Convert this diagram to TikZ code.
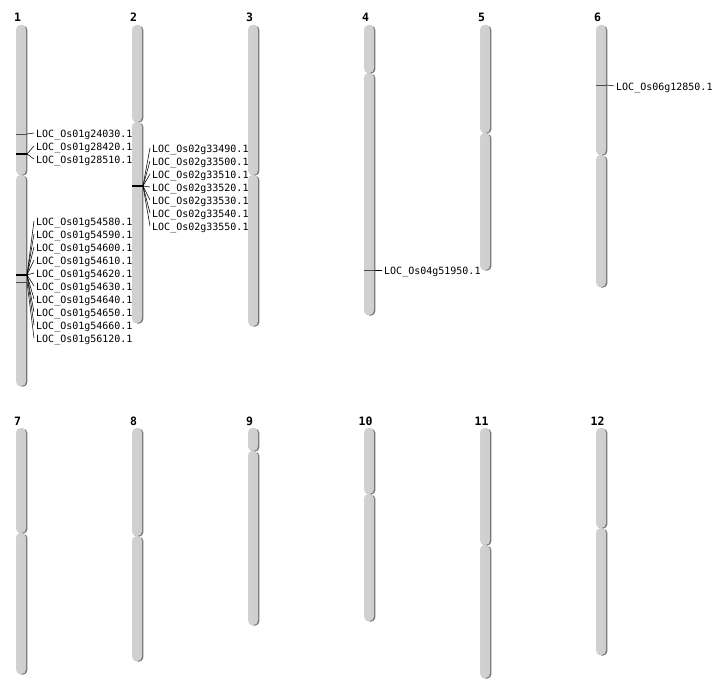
\documentclass[tikz,border=0pt]{standalone}
\usepackage{fontspec}
\setmonofont{DejaVu Sans Mono}
\newcommand\chrarm[3]{%
  \fill[black!55, rounded corners=4.5pt] (#1+1.4,#2+0.6) rectangle (#1+11.4,#3+0.6);
  \shade[left color=black!18, middle color=black!10, right color=black!19, rounded corners=4.5pt] (#1,#2) rectangle (#1+10,#3);}
\begin{document}
\begin{tikzpicture}[x=1pt,y=-1pt,
  chrnum/.style={font=\ttfamily\bfseries\fontsize{11.5}{13}\selectfont, inner sep=0pt},
  gene/.style={font=\ttfamily\fontsize{10}{12}\selectfont, anchor=west, inner xsep=2pt, inner ysep=0pt, text height=8.3pt, text depth=0pt},
  mark1/.style={black!70, line width=0.9pt},
  markn/.style={black, line width=1.2pt},
  conn/.style={black, line width=0.55pt}]
\useasboundingbox (0,0) rectangle (712,700);
\foreach \n/\x/\t/\c/\b/\ly in {1/16/25/175/386/17, 2/132/25/122/323/17, 3/248/25/175/326/17, 4/364/25/73/315/17, 5/480/25/133/270/17, 6/596/25/155/287/17,
  7/16/428/533/674/421, 8/132/428/536/661/421, 9/248/428/451/625/421, 10/364/428/494/621/421, 11/480/428/545/678/421, 12/596/428/528/655/421}{
  \chrarm{\x}{\t}{\c}
  \chrarm{\x}{\c}{\b}
  \node[chrnum] (num\n) at (\x+1.5,\ly) {\n};
}
% chromosome 1 markers
\coordinate (m1a) at (27,134);
\coordinate (m1b) at (27,154);
\coordinate (m1c) at (27,275);
\coordinate (m1d) at (27,282);
\draw[mark1] (16,134) -- (m1a);
\draw[markn] (16,154) -- (m1b);
\draw[markn] (16,275) -- (m1c);
\draw[mark1] (16,282) -- (m1d);
\node[gene] (g1) at (34,133) {LOC\_Os01g24030.1};
\node[gene] (g2) at (34,146) {LOC\_Os01g28420.1};
\node[gene] (g3) at (34,159) {LOC\_Os01g28510.1};
\draw[conn] (m1a) -- (g1.west);
\draw[conn] (m1b) -- (g2.west);
\draw[conn] (m1b) -- (g3.west);
\foreach \g [count=\i from 0] in {54580,54590,54600,54610,54620,54630,54640,54650,54660}{
  \node[gene] (h\i) at (34,221+13*\i) {LOC\_Os01g\g.1};
  \draw[conn] (m1c) -- (h\i.west);
}
\node[gene] (h9) at (34,338) {LOC\_Os01g56120.1};
\draw[conn] (m1d) -- (h9.west);
% chromosome 2
\coordinate (m2) at (143,186);
\draw[markn] (132,186) -- (m2);
\foreach \g [count=\i from 0] in {33490,33500,33510,33520,33530,33540,33550}{
  \node[gene] (k\i) at (150,148+13*\i) {LOC\_Os02g\g.1};
  \draw[conn] (m2) -- (k\i.west);
}
% chromosome 4
\coordinate (m4) at (375,270);
\draw[mark1] (364,270) -- (m4);
\node[gene] (g4) at (382,270) {LOC\_Os04g51950.1};
\draw[conn] (m4) -- (g4.west);
% chromosome 6
\coordinate (m6) at (607,85);
\draw[mark1] (596,85) -- (m6);
\node[gene] (g6) at (614,86) {LOC\_Os06g12850.1};
\draw[conn] (m6) -- (g6.west);
\end{tikzpicture}
\end{document}
